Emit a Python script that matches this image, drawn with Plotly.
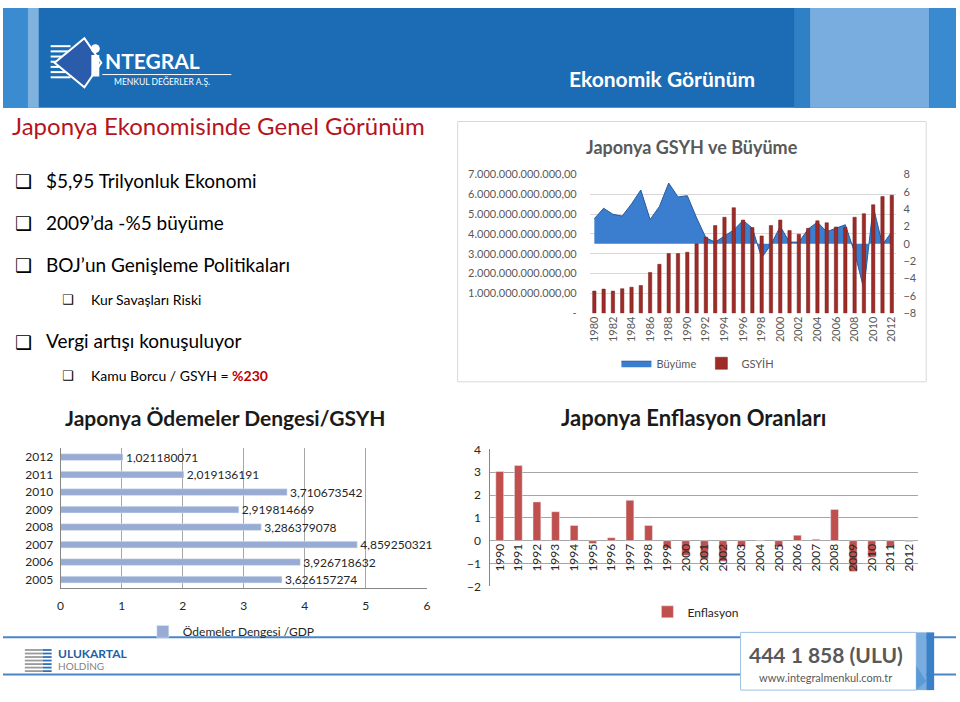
import plotly.graph_objects as go

W, H = 960, 702
def X(p): return p / W
def Y(p): return 1 - p / H

# ---------------- data ----------------
gdp_years = list(range(1980, 2013))
gdp_trillion_usd = [1.12, 1.22, 1.12, 1.24, 1.32, 1.40, 2.06, 2.47, 3.01, 3.01, 3.08,
                    3.51, 3.84, 4.42, 4.84, 5.32, 4.70, 4.32, 3.90, 4.42, 4.70,
                    4.17, 3.99, 4.28, 4.66, 4.56, 4.35, 4.33, 4.84, 5.02, 5.47,
                    5.88, 5.95]
growth_pct = [2.9, 4.1, 3.4, 3.2, 4.6, 6.2, 2.8, 4.3, 7.0, 5.4, 5.55,
              3.0, 0.7, 0.2, 0.9, 1.6, 2.7, 1.8, -1.6, -0.1, 2.0,
              0.2, 0.2, 1.7, 2.5, 1.4, 1.8, 2.2, -1.0, -5.2, 4.3,
              -0.1, 1.4]
gdp_tick_vals = [0, 1, 2, 3, 4, 5, 6, 7]
gdp_tick_text = ["-", "1.000.000.000.000,00", "2.000.000.000.000,00", "3.000.000.000.000,00",
                 "4.000.000.000.000,00", "5.000.000.000.000,00", "6.000.000.000.000,00",
                 "7.000.000.000.000,00"]
growth_ticks = [-8, -6, -4, -2, 0, 2, 4, 6, 8]
year_ticks = list(range(1980, 2013, 2))

bop_years = ["2005", "2006", "2007", "2008", "2009", "2010", "2011", "2012"]
bop_values = [3.626157274, 3.926718632, 4.859250321, 3.286379078,
              2.919814669, 3.710673542, 2.019136191, 1.021180071]
bop_labels = ["3,626157274", "3,926718632", "4,859250321", "3,286379078",
              "2,919814669", "3,710673542", "2,019136191", "1,021180071"]

infl_years = [str(y) for y in range(1990, 2013)]
infl_values = [3.03, 3.29, 1.70, 1.27, 0.67, -0.12, 0.13, 1.77, 0.67, -0.33,
               -0.65, -0.80, -0.90, -0.25, -0.01, -0.27, 0.24, 0.06, 1.37, -1.35,
               -0.72, -0.27, -0.03]

FONT = "Lato"
fig = go.Figure()

# ---------------- top chart ----------------
fig.add_trace(go.Scatter(x=gdp_years, y=growth_pct, name="Büyüme", mode="lines",
                         fill="tozeroy", fillcolor="#3b7ecf",
                         line=dict(color="#2a5a9c", width=1),
                         xaxis="x", yaxis="y", legend="legend"))
fig.add_trace(go.Bar(x=gdp_years, y=gdp_trillion_usd, name="GSYİH", width=0.36,
                     marker=dict(color="#9e2b27", line=dict(color="#701c19", width=0.5)),
                     xaxis="x", yaxis="y2", legend="legend"))

# ---------------- bottom-left chart ----------------
fig.add_trace(go.Bar(y=bop_years, x=bop_values, orientation="h", name="Ödemeler Dengesi /GDP",
                     width=0.38, marker=dict(color="#97abd3"),
                     text=bop_labels, textposition="outside", constraintext="none",
                     textfont=dict(size=12, color="#262626", family=FONT), cliponaxis=False,
                     xaxis="x2", yaxis="y3", legend="legend2"))

# ---------------- bottom-right chart ----------------
fig.add_trace(go.Bar(x=infl_years, y=infl_values, name="Enflasyon", width=0.42,
                     marker=dict(color="#c0504d"),
                     xaxis="x3", yaxis="y4", legend="legend3"))

tickf = dict(family=FONT, size=11, color="#595959")
fig.update_layout(
    width=W, height=H, margin=dict(l=0, r=0, t=0, b=0),
    paper_bgcolor="white", plot_bgcolor="rgba(0,0,0,0)",
    font=dict(family=FONT, color="#000000"),
    showlegend=True,
    xaxis=dict(domain=[X(591), X(900)], anchor="y", range=[1979.5, 2012.5],
               tickvals=year_ticks, tickangle=-90, tickfont=tickf,
               showgrid=False, showline=False, ticks="", zeroline=False),
    yaxis=dict(domain=[Y(312), Y(170)], anchor="x", side="right", range=[-8, 8],
               tickvals=growth_ticks, tickfont=tickf, showgrid=False, zeroline=False,
               ticklabelstandoff=6),
    yaxis2=dict(overlaying="y", anchor="x", side="left", range=[0, 7],
                tickvals=gdp_tick_vals, ticktext=gdp_tick_text, tickfont=tickf,
                showgrid=True, gridcolor="#d9d9d9", zeroline=False, ticklabelstandoff=12),
    xaxis2=dict(domain=[X(58), X(427)], anchor="y3", range=[0, 6], dtick=1,
                showgrid=True, gridcolor="#a6a6a6", showline=True, linecolor="#868686",
                zeroline=False, tickfont=dict(family=FONT, size=12, color="#262626"),
                ticklabelstandoff=6),
    yaxis3=dict(domain=[Y(593), Y(450)], anchor="x2", type="category",
                categoryorder="array", categoryarray=bop_years,
                showline=True, linecolor="#868686", showgrid=False,
                tickfont=dict(family=FONT, size=12, color="#262626"), ticklabelstandoff=4),
    xaxis3=dict(domain=[X(491), X(922)], anchor="free", position=Y(544), type="category",
                tickangle=-90, showgrid=False, showline=False, ticks="", zeroline=False,
                tickfont=dict(family=FONT, size=12, color="#262626")),
    yaxis4=dict(domain=[Y(591), Y(451)], anchor="x3", range=[-2, 4], dtick=1,
                showgrid=True, gridcolor="#a6a6a6", showline=True, linecolor="#868686",
                zeroline=False, tickfont=dict(family=FONT, size=12, color="#262626"),
                ticklabelstandoff=6),
    legend=dict(orientation="h", x=X(700), xanchor="center", y=Y(363), yanchor="middle",
                font=dict(family=FONT, size=11, color="#595959"), bgcolor="rgba(0,0,0,0)"),
    legend2=dict(orientation="h", x=X(230), xanchor="center", y=Y(637), yanchor="middle",
                 font=dict(family=FONT, size=12, color="#262626"), bgcolor="rgba(0,0,0,0)"),
    legend3=dict(orientation="h", x=X(698), xanchor="center", y=Y(617), yanchor="middle",
                 font=dict(family=FONT, size=12, color="#262626"), bgcolor="rgba(0,0,0,0)"),
)

shapes = []
def rect(x0, y0, x1, y1, fill, line=None, lw=0, layer="above"):
    shapes.append(dict(type="rect", xref="paper", yref="paper",
                       x0=X(x0), x1=X(x1), y0=Y(y1), y1=Y(y0), fillcolor=fill,
                       line=dict(color=line or fill, width=lw), layer=layer))
def hline(x0, x1, y, color, w):
    shapes.append(dict(type="line", xref="paper", yref="paper", x0=X(x0), x1=X(x1),
                       y0=Y(y), y1=Y(y), line=dict(color=color, width=w)))

# header
rect(0, 0, 960, 102, "#1b6cb5")
rect(0, 0, 25, 102, "#3a8bd0")
rect(25, 0, 36, 102, "#80b2e0")
rect(797, 0, 813, 102, "#2f80c4")
rect(813, 0, 933, 102, "#7aaddf")
rect(933, 0, 960, 102, "#3a8ad0")
# logo stripes
for i in range(7):
    hline(48, 68, 39 + i * 5.3, "white", 2)
shapes.append(dict(type="path", xref="paper", yref="paper",
                   path=f"M {X(52)} {Y(56)} L {X(82)} {Y(31)} L {X(99)} {Y(56)} L {X(82)} {Y(81)} Z",
                   fillcolor="#2b5cab", line=dict(color="white", width=2)))
rect(89, 48, 97, 70, "white")
shapes.append(dict(type="circle", xref="paper", yref="paper", x0=X(88.5), x1=X(97.5),
                   y0=Y(46), y1=Y(37), fillcolor="white", line=dict(color="white", width=0)))
hline(100, 230, 68, "white", 1)

# top chart frame
rect(458, 116, 930, 382, "white", "#d9d9d9", 1, layer="below")

# footer
hline(0, 960, 643, "#4a86c5", 2)
hline(0, 960, 681, "#4a86c5", 2)
rect(743, 638, 920, 697, "white", "#9dbfe2", 1)
rect(920, 638, 930, 697, "#7aaddf")
rect(930, 638, 938, 697, "#3a80c8")
shapes.append(dict(type="path", xref="paper", yref="paper",
                   path=f"M {X(920)} {Y(672)} L {X(930)} {Y(688)} L {X(920)} {Y(697)} Z",
                   fillcolor="#5b9ad6", line=dict(width=0)))
for i in range(7):
    hline(22, 40, 656 + i * 3.6, "#9a9a9a", 1.8)
    hline(40, 49, 656 + i * 3.6, "#2f6fb5", 1.8)
fig.update_layout(shapes=shapes)

ann = []
def text(x, y, s, size, color="#000000", anchor="left", bold=False, family=FONT):
    if bold:
        s = f"<b>{s}</b>"
    ann.append(dict(x=X(x), y=Y(y), xref="paper", yref="paper", text=s, showarrow=False,
                    xanchor=anchor, yanchor="middle",
                    font=dict(size=size, color=color, family=family)))

# header texts
text(101, 54, "NTEGRAL", 21, "white", bold=True)
text(110, 75, "MENKUL DEĞERLER A.Ş.", 8.5, "white")
text(664, 72, "Ekonomik Görünüm", 21, "white", anchor="center", bold=True)

# left text block
text(7, 120, "Japonya Ekonomisinde Genel Görünüm", 24, "#b5141c")
box = "❑"
for yy, s in [(176, "$5,95 Trilyonluk Ekonomi"), (219, "2009’da -%5 büyüme"),
              (262, "BOJ’un Genişleme Politikaları"), (340, "Vergi artışı konuşuluyor")]:
    text(10, yy + 1, box, 19, family="DejaVu Sans")
    text(41, yy, s, 19)
for yy, s in [(298, "Kur Savaşları Riski"),
              (376, "Kamu Borcu / GSYH = <b><span style='color:#c00000'>%230</span></b>")]:
    text(57, yy, box, 13, family="DejaVu Sans")
    text(87, yy, s, 14)

# chart titles
text(694, 142, "Japonya GSYH ve Büyüme", 18, "#595959", anchor="center", bold=True)
text(60, 418, "Japonya Ödemeler Dengesi/GSYH", 21, "#1a1a1a", bold=True)
text(560, 418, "Japonya Enflasyon Oranları", 22, "#1a1a1a", bold=True)

# footer texts
text(53, 660, "ULUKARTAL", 12, "#1f5fa8", bold=True)
text(53, 672, "HOLDİNG", 10, "#7f7f7f")
text(829, 661, "444 1 858 (ULU)", 21, "#595959", anchor="center", bold=True)
text(829, 684, "www.integralmenkul.com.tr", 11, "#595959", anchor="center")
fig.update_layout(annotations=ann)

fig.write_html("out.html")
